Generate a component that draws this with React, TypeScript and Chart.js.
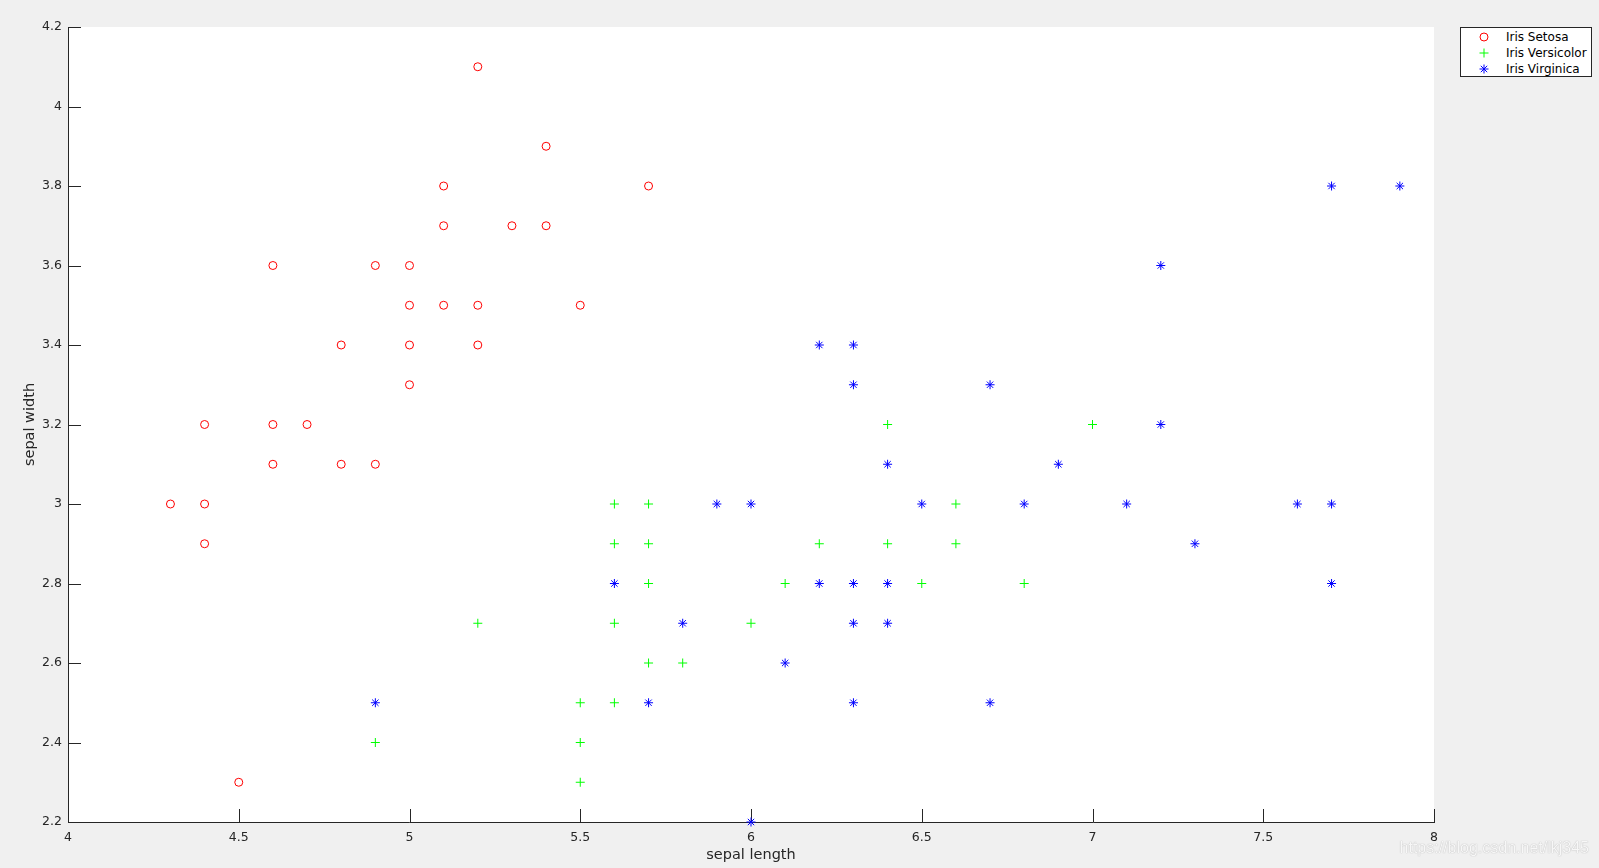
import React, { useEffect, useRef } from "react";
import { Chart, registerables } from "chart.js";

Chart.register(...registerables);

// Iris Setosa (sepal length, sepal width)
const setosaX = [5.2, 5.4, 5.1, 5.7, 5.1, 5.3, 5.4, 4.6, 4.9, 5.0, 5.0, 5.1, 5.2, 5.5, 4.8, 5.0, 5.2, 5.0, 4.4, 4.6, 4.7, 4.6, 4.8, 4.9, 4.3, 4.4, 4.4, 4.5];
const setosaY = [4.1, 3.9, 3.8, 3.8, 3.7, 3.7, 3.7, 3.6, 3.6, 3.6, 3.5, 3.5, 3.5, 3.5, 3.4, 3.4, 3.4, 3.3, 3.2, 3.2, 3.2, 3.1, 3.1, 3.1, 3.0, 3.0, 2.9, 2.3];

// Iris Versicolor
const versicolorX = [6.4, 7.0, 5.6, 5.7, 6.6, 5.6, 5.7, 6.2, 6.4, 6.6, 5.7, 6.1, 6.5, 6.8, 5.2, 5.6, 6.0, 5.7, 5.8, 5.5, 5.6, 4.9, 5.5, 5.5];
const versicolorY = [3.2, 3.2, 3.0, 3.0, 3.0, 2.9, 2.9, 2.9, 2.9, 2.9, 2.8, 2.8, 2.8, 2.8, 2.7, 2.7, 2.7, 2.6, 2.6, 2.5, 2.5, 2.4, 2.4, 2.3];

// Iris Virginica
const virginicaX = [7.7, 7.9, 7.2, 6.2, 6.3, 6.3, 6.7, 7.2, 6.4, 6.9, 5.9, 6.0, 6.5, 6.8, 7.1, 7.6, 7.7, 7.3, 5.6, 6.2, 6.3, 6.4, 7.7, 5.8, 6.3, 6.4, 6.1, 4.9, 5.7, 6.3, 6.7, 6.0];
const virginicaY = [3.8, 3.8, 3.6, 3.4, 3.4, 3.3, 3.3, 3.2, 3.1, 3.1, 3.0, 3.0, 3.0, 3.0, 3.0, 3.0, 3.0, 2.9, 2.8, 2.8, 2.8, 2.8, 2.8, 2.7, 2.7, 2.7, 2.6, 2.5, 2.5, 2.5, 2.5, 2.2];

const seriesNames = ["Iris Setosa", "Iris Versicolor", "Iris Virginica"];
const seriesColors = ["#ff0000", "#00ff00", "#0000ff"];

const xTicks = [4, 4.5, 5, 5.5, 6, 6.5, 7, 7.5, 8];
const yTicks = [2.2, 2.4, 2.6, 2.8, 3, 3.2, 3.4, 3.6, 3.8, 4, 4.2];

const xTitle = "sepal length";
const yTitle = "sepal width";
const watermark = "https://blog.csdn.net/lkj345";

const FONT = "'DejaVu Sans', sans-serif";
const AXIS = "#262626";

const toPoints = (xs: number[], ys: number[]) => xs.map((x, i) => ({ x, y: ys[i] }));
const fmt = (v: number) => String(Math.round(v * 10) / 10);

const insideTicks = {
  id: "insideTicks",
  beforeDraw(chart: any) {
    const { ctx, chartArea } = chart;
    ctx.save();
    ctx.fillStyle = "#ffffff";
    ctx.fillRect(chartArea.left, chartArea.top, chartArea.right - chartArea.left, chartArea.bottom - chartArea.top);
    ctx.restore();
  },
  beforeDatasetsDraw(chart: any) {
    const { ctx, chartArea, scales } = chart;
    const len = 13;
    ctx.save();
    ctx.strokeStyle = AXIS;
    ctx.lineWidth = 1;
    ctx.beginPath();
    xTicks.forEach((v) => {
      const px = Math.round(scales.x.getPixelForValue(v)) + 0.5;
      ctx.moveTo(px, chartArea.bottom);
      ctx.lineTo(px, chartArea.bottom - len);
    });
    yTicks.forEach((v) => {
      const py = Math.round(scales.y.getPixelForValue(v)) + 0.5;
      ctx.moveTo(chartArea.left, py);
      ctx.lineTo(chartArea.left + len, py);
    });
    ctx.stroke();
    ctx.restore();
  },
};

function Marker({ kind, color }: { kind: number; color: string }) {
  return (
    <svg width={12} height={12} viewBox="0 0 12 12" style={{ display: "block" }}>
      {kind === 0 && <circle cx={6} cy={6} r={4} fill="none" stroke={color} strokeWidth={1} />}
      {kind >= 1 && (
        <g stroke={color} strokeWidth={1}>
          <line x1={1.5} y1={6} x2={10.5} y2={6} />
          <line x1={6} y1={1.5} x2={6} y2={10.5} />
        </g>
      )}
      {kind === 2 && (
        <g stroke={color} strokeWidth={1}>
          <line x1={2.8} y1={2.8} x2={9.2} y2={9.2} />
          <line x1={9.2} y1={2.8} x2={2.8} y2={9.2} />
        </g>
      )}
    </svg>
  );
}

export default function App() {
  const ref = useRef<HTMLCanvasElement | null>(null);

  useEffect(() => {
    document.body.style.margin = "0";
    const canvas = ref.current;
    if (!canvas) return;
    const chart = new Chart(canvas, {
      type: "scatter",
      data: {
        datasets: [
          {
            label: seriesNames[0],
            data: toPoints(setosaX, setosaY),
            pointStyle: "circle",
            pointRadius: 4,
            pointBorderWidth: 1,
            borderColor: seriesColors[0],
            backgroundColor: "rgba(0,0,0,0)",
            clip: false,
            order: 2,
          },
          {
            label: seriesNames[1],
            data: toPoints(versicolorX, versicolorY),
            pointStyle: "cross",
            pointRadius: 4.5,
            pointBorderWidth: 1,
            borderColor: seriesColors[1],
            backgroundColor: seriesColors[1],
            clip: false,
            order: 1,
          },
          {
            label: seriesNames[2],
            data: toPoints(virginicaX, virginicaY),
            pointStyle: "star",
            pointRadius: 4.5,
            pointBorderWidth: 1,
            borderColor: seriesColors[2],
            backgroundColor: seriesColors[2],
            clip: false,
            order: 0,
          },
        ] as any,
      },
      options: {
        animation: false,
        responsive: false,
        layout: { padding: { top: 27, right: 165, left: 0, bottom: 0 } },
        plugins: { legend: { display: false }, tooltip: { enabled: false } },
        scales: {
          x: {
            type: "linear",
            min: 4,
            max: 8,
            afterBuildTicks: (s: any) => {
              s.ticks = xTicks.map((v) => ({ value: v }));
            },
            afterFit: (s: any) => {
              s.height = 46;
            },
            grid: { display: false, drawTicks: false },
            border: { display: true, color: AXIS, width: 1 },
            ticks: {
              color: AXIS,
              font: { family: FONT, size: 12.5 },
              padding: 8,
              maxRotation: 0,
              autoSkip: false,
              callback: (v: any) => fmt(Number(v)),
            },
            title: {
              display: true,
              text: xTitle,
              color: AXIS,
              font: { family: FONT, size: 14.5 },
              padding: { top: 0, bottom: 4.5 },
            },
          },
          y: {
            type: "linear",
            min: 2.2,
            max: 4.2,
            afterBuildTicks: (s: any) => {
              s.ticks = yTicks.map((v) => ({ value: v }));
            },
            afterFit: (s: any) => {
              s.width = 68;
            },
            grid: { display: false, drawTicks: false },
            border: { display: true, color: AXIS, width: 1 },
            ticks: {
              color: AXIS,
              font: { family: FONT, size: 12.5 },
              padding: 6,
              autoSkip: false,
              callback: (v: any) => fmt(Number(v)),
            },
            title: {
              display: true,
              text: yTitle,
              color: AXIS,
              font: { family: FONT, size: 14.5 },
              padding: { top: 21.5, bottom: 0 },
            },
          },
        },
      } as any,
      plugins: [insideTicks],
    });
    return () => chart.destroy();
  }, []);

  return (
    <div style={{ position: "relative", width: 1599, height: 868, background: "#f0f0f0", overflow: "hidden" }}>
      <canvas ref={ref} width={1599} height={868} style={{ position: "absolute", left: 0, top: 0 }} />
      <div
        style={{
          position: "absolute",
          left: 1460,
          top: 27,
          width: 130,
          height: 48,
          border: `1px solid ${AXIS}`,
          background: "#ffffff",
          fontFamily: FONT,
          fontSize: 12,
          color: "#000000",
        }}
      >
        {seriesNames.map((name, i) => (
          <div key={name} style={{ position: "absolute", left: 0, top: 1 + i * 16, height: 16, width: 130 }}>
            <div style={{ position: "absolute", left: 17, top: 2 }}>
              <Marker kind={i} color={seriesColors[i]} />
            </div>
            <div style={{ position: "absolute", left: 45, top: 0, lineHeight: "16px", whiteSpace: "nowrap" }}>{name}</div>
          </div>
        ))}
      </div>
      <div
        style={{
          position: "absolute",
          right: 10,
          top: 838,
          fontFamily: "'Liberation Sans', Arial, sans-serif",
          fontSize: 16,
          lineHeight: "20px",
          color: "rgba(255,255,255,0.9)",
          textShadow: "0 0 1px rgba(120,120,120,0.7)",
          whiteSpace: "nowrap",
        }}
      >
        {watermark}
      </div>
    </div>
  );
}
